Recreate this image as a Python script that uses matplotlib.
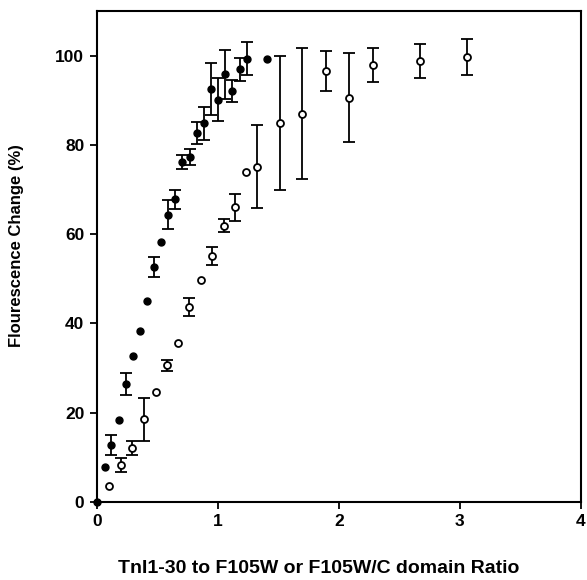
import matplotlib
matplotlib.use('Agg')
import numpy as np
import matplotlib.pyplot as plt

plt.rcParams['font.family'] = ['Liberation Sans', 'DejaVu Sans']
plt.rcParams['font.weight'] = 'bold'

# filled circles (F105W)
x_filled = [0.0, 0.064, 0.121, 0.182, 0.24, 0.30, 0.355, 0.416, 0.474, 0.529, 0.587,
            0.647, 0.705, 0.766, 0.824, 0.884, 0.942, 1.0, 1.06, 1.12, 1.18, 1.237, 1.41]
y_filled = [0.0, 7.9, 12.7, 18.3, 26.4, 32.7, 38.4, 45.0, 52.6, 58.3, 64.4,
            67.8, 76.1, 77.3, 82.7, 84.8, 92.6, 90.1, 95.8, 92.1, 96.9, 99.3, 99.3]
e_filled = [0, 0, 2.2, 0, 2.5, 0, 0, 0, 2.3, 0, 3.3,
            2.1, 1.6, 1.8, 2.5, 3.7, 5.8, 4.8, 5.4, 2.5, 2.5, 3.7, 0]

# open circles (F105W/C)
x_open = [0.099, 0.196, 0.292, 0.388, 0.485, 0.579, 0.669, 0.763, 0.857, 0.953, 1.047,
          1.14, 1.229, 1.325, 1.51, 1.697, 1.89, 2.08, 2.28, 2.67, 3.06]
y_open = [3.6, 8.3, 12.1, 18.5, 24.7, 30.6, 35.7, 43.7, 49.7, 55.1, 61.9,
          66.0, 74.0, 75.1, 84.9, 87.0, 96.5, 90.6, 98.0, 98.7, 99.7]
e_open = [0, 1.6, 1.5, 4.9, 0, 1.2, 0, 2.0, 0, 2.0, 1.4,
          3.0, 0, 9.3, 15.0, 14.7, 4.5, 10.0, 3.8, 3.8, 4.0]

fig = plt.figure(figsize=(5.87, 5.80), dpi=100)
ax = fig.add_axes([0.165, 0.1345, 0.8245, 0.8465])

bar_kw = dict(fmt='none', ecolor='black', elinewidth=1.3, capsize=4.5,
              capthick=1.3, zorder=2)

xf, yf, ef = np.array(x_filled), np.array(y_filled), np.array(e_filled)
m = ef > 0
ax.errorbar(xf[m], yf[m], yerr=ef[m], **bar_kw)
ax.plot(xf, yf, 'o', color='black', markersize=5, zorder=3, clip_on=False)

xo, yo, eo = np.array(x_open), np.array(y_open), np.array(e_open)
m = eo > 0
ax.errorbar(xo[m], yo[m], yerr=eo[m], **bar_kw)
ax.plot(xo, yo, 'o', mfc='white', mec='black', mew=1.3, markersize=5, zorder=3)

ax.set_xlim(0, 4)
ax.set_ylim(0, 110)
ax.set_xticks([0, 1, 2, 3, 4])
ax.set_yticks([0, 20, 40, 60, 80, 100])
for s in ax.spines.values():
    s.set_linewidth(1.5)
ax.tick_params(direction='out', length=5, width=1.3, labelsize=12.5, pad=4)
for lab in ax.get_xticklabels() + ax.get_yticklabels():
    lab.set_fontweight('bold')

ax.set_xlabel('TnI1-30 to F105W or F105W/C domain Ratio', fontsize=14,
              fontweight='bold', va='center')
ax.xaxis.set_label_coords(0.458, -0.135)
ax.set_ylabel('Flourescence Change (%)', fontsize=12, fontweight='bold',
              va='center')
ax.yaxis.set_label_coords(-0.165, 0.523)

fig.savefig('out.png', dpi=100)
